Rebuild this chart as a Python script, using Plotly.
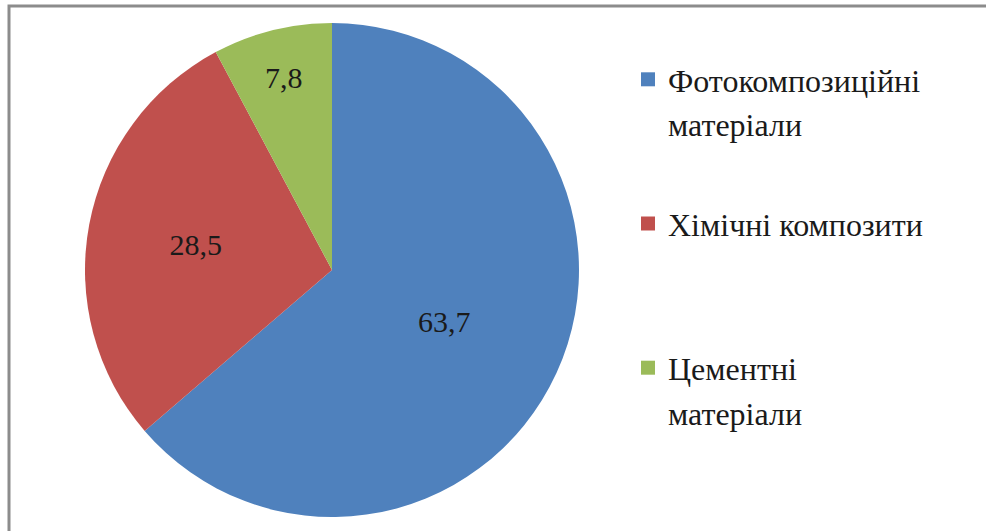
import plotly.graph_objects as go

categories = ["Фотокомпозиційні матеріали", "Хімічні композити", "Цементні матеріали"]
legend_lines = [["Фотокомпозиційні", "матеріали"], ["Хімічні композити", " "], ["Цементні", "матеріали"]]
values = [63.7, 28.5, 7.8]
value_text = ["63,7", "28,5", "7,8"]
colors = ["#4F81BD", "#C0504D", "#9BBB59"]

SERIF = "serif"
W, H = 986, 531
cx, cy, r = 332, 270, 247

fig = go.Figure()
fig.add_trace(go.Pie(
    labels=categories,
    values=values,
    text=value_text,
    textinfo="text",
    textposition="inside",
    insidetextorientation="horizontal",
    sort=False,
    direction="clockwise",
    rotation=0,
    marker=dict(colors=colors, line=dict(width=0)),
    insidetextfont=dict(family=SERIF, size=30, color="#1a1a1a"),
    showlegend=False,
    hoverinfo="label+value",
    domain=dict(x=[(cx - r) / W, (cx + r) / W], y=[(H - cy - r) / H, (H - cy + r) / H]),
))

# legend: one single-line entry per text line; only the first line of each category carries a swatch
for i, lines in enumerate(legend_lines):
    for j, line in enumerate(lines):
        fig.add_trace(go.Scatter(
            x=[None], y=[None], mode="markers", name=line,
            marker=dict(symbol="square", size=14,
                        color=colors[i] if j == 0 else "rgba(0,0,0,0)"),
            legendgroup=f"g{i}", showlegend=True, hoverinfo="skip",
        ))

fig.update_layout(
    width=W, height=H,
    margin=dict(l=0, r=0, t=0, b=0),
    paper_bgcolor="white", plot_bgcolor="white",
    font=dict(family=SERIF, color="#1a1a1a"),
    xaxis=dict(visible=False), yaxis=dict(visible=False),
    legend=dict(
        x=628 / W, xanchor="left", y=1 - 52 / H, yanchor="top",
        font=dict(family=SERIF, size=32, color="#1a1a1a"),
        tracegroupgap=55, bgcolor="rgba(0,0,0,0)",
        itemclick=False, itemdoubleclick=False,
    ),
    shapes=[
        dict(type="path", xref="paper", yref="paper",
             path=f"M {9/W} -0.01 L {9/W} {1 - 6/H} L 1.01 {1 - 6/H}",
             line=dict(color="#8c8c8c", width=3)),
    ],
)

fig.write_html("out.html", config={"displayModeBar": False},
               post_script="document.body.style.margin='0';document.body.style.overflow='hidden';")
